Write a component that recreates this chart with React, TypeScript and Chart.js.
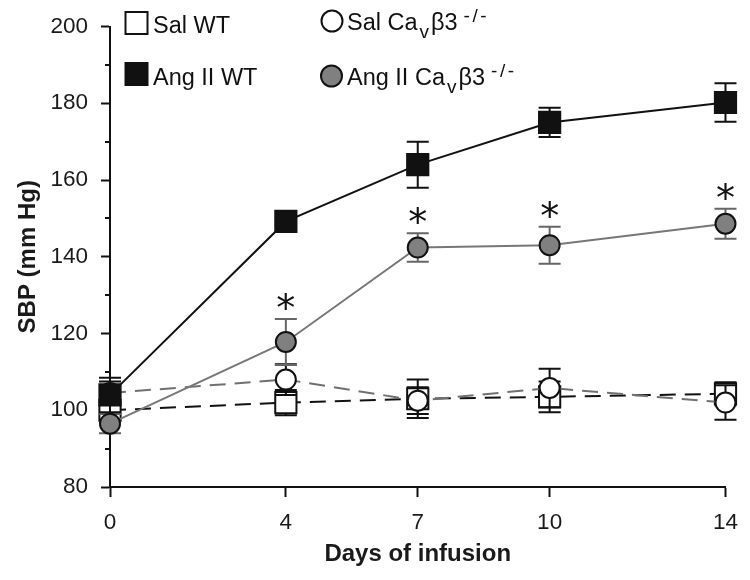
import React, { useEffect, useRef } from 'react';
import { Chart, registerables } from 'chart.js';

Chart.register(...registerables);

// ---- data ----
const days = [0, 4, 7, 10, 14];
const angWT = [104, 149.2, 164, 175, 180.2];
const angWTErr = [4.5, 1, 6, 3.8, 5];
const angKO = [96.5, 117.8, 142.4, 143, 148.6];
const angKOErr = [2.5, 6, 3.7, 4.8, 3.9];
const salKO = [104.5, 108, 102.5, 105.8, 102];
const salKOErr = [3, 4, 3.5, 5, 4.5];
const salWT = [100, 102, 103, 103.5, 104.3];
const salWTErr = [2, 3.3, 5, 4, 3];
const sigDays = [4, 7, 10, 14];
const yMajorTicks = [80, 100, 120, 140, 160, 180, 200];
const yMinorTicks = [90, 110, 130, 150, 170, 190];
const xTitle = 'Days of infusion';
const yTitle = 'SBP (mm Hg)';
const legendSalWT = [{ t: 'Sal WT' }];
const legendAngWT = [{ t: 'Ang II WT' }];
const legendSalKO = [{ t: 'Sal Ca' }, { t: 'v', sub: true }, { t: 'β3' }, { t: '-/-', sup: true }];
const legendAngKO = [{ t: 'Ang II Ca' }, { t: 'v', sub: true }, { t: 'β3' }, { t: '-/-', sup: true }];

const FAMILY = '"Liberation Sans", Arial, Helvetica, sans-serif';
const STAR_FONT = '38px "DejaVu Sans", sans-serif';
const INK = '#111111';
const GRAY_FILL = '#808080';
const GRAY_LINE = '#777777';

type Seg = { t: string; sub?: boolean; sup?: boolean };

function drawRich(ctx: CanvasRenderingContext2D, segs: Seg[], x: number, base: number) {
  let cx = x;
  ctx.textAlign = 'left';
  ctx.textBaseline = 'alphabetic';
  ctx.fillStyle = INK;
  segs.forEach((s) => {
    const small = s.sub || s.sup;
    ctx.font = `${small ? 19 : 23.5}px ${FAMILY}`;
    if (s.sup) cx += 6;
    if (s.sub) cx += 2;
    const dy = s.sub ? 8 : s.sup ? -8 : 0;
    if (s.sup) {
      for (const ch of s.t) {
        ctx.fillText(ch, cx, base + dy);
        cx += ctx.measureText(ch).width + 2.5;
      }
    } else {
      ctx.fillText(s.t, cx, base + dy);
      cx += ctx.measureText(s.t).width + (s.sub ? 2 : 0);
    }
  });
}

function drawMarker(ctx: CanvasRenderingContext2D, kind: 'rect' | 'circle', x: number, y: number, fill: string) {
  ctx.save();
  ctx.lineWidth = 2;
  ctx.strokeStyle = INK;
  ctx.fillStyle = fill;
  ctx.beginPath();
  if (kind === 'rect') ctx.rect(x - 11, y - 11, 22, 22);
  else ctx.arc(x, y, 10.5, 0, Math.PI * 2);
  ctx.fill();
  ctx.stroke();
  ctx.restore();
}

const errorBarPlugin = {
  id: 'errorBars',
  beforeDatasetDraw(chart: any, args: any) {
    const ds = chart.data.datasets[args.index];
    const err: number[] | undefined = ds.err;
    if (!err) return;
    const { ctx } = chart;
    const xs = chart.scales.x;
    const ys = chart.scales.y;
    ctx.save();
    ctx.strokeStyle = ds.errColor || INK;
    ctx.lineWidth = 2;
    ds.data.forEach((p: any, i: number) => {
      const px = xs.getPixelForValue(p.x);
      const top = ys.getPixelForValue(p.y + err[i]);
      const bot = ys.getPixelForValue(p.y - err[i]);
      ctx.beginPath();
      ctx.moveTo(px, top);
      ctx.lineTo(px, bot);
      ctx.moveTo(px - 11, top);
      ctx.lineTo(px + 11, top);
      ctx.moveTo(px - 11, bot);
      ctx.lineTo(px + 11, bot);
      ctx.stroke();
    });
    ctx.restore();
  },
};

const decorPlugin = {
  id: 'decor',
  afterDraw(chart: any) {
    const { ctx, chartArea } = chart;
    const xs = chart.scales.x;
    const ys = chart.scales.y;
    ctx.save();
    ctx.strokeStyle = INK;
    ctx.lineWidth = 2;
    yMinorTicks.forEach((v) => {
      const py = Math.round(ys.getPixelForValue(v));
      ctx.beginPath();
      ctx.moveTo(chartArea.left - 5, py);
      ctx.lineTo(chartArea.left, py);
      ctx.stroke();
    });
    ctx.restore();

    ctx.save();
    ctx.fillStyle = INK;
    ctx.textAlign = 'center';
    ctx.textBaseline = 'alphabetic';
    ctx.font = STAR_FONT;
    const m = ctx.measureText('*');
    sigDays.forEach((d) => {
      const i = days.indexOf(d);
      const px = xs.getPixelForValue(d);
      const top = ys.getPixelForValue(angKO[i] + angKOErr[i]);
      const cy = top - 18;
      const base = cy + (m.actualBoundingBoxAscent - m.actualBoundingBoxDescent) / 2;
      ctx.fillText('*', px, base);
    });
    ctx.restore();

    ctx.save();
    drawMarker(ctx, 'rect', 136.5, 23, '#ffffff');
    drawRich(ctx, legendSalWT, 153, 33);
    drawMarker(ctx, 'rect', 136.5, 74, INK);
    drawRich(ctx, legendAngWT, 153, 85);
    drawMarker(ctx, 'circle', 332, 21, '#ffffff');
    drawRich(ctx, legendSalKO, 347, 30);
    drawMarker(ctx, 'circle', 331.5, 76, GRAY_FILL);
    drawRich(ctx, legendAngKO, 347, 85);
    ctx.restore();
  },
};

export default function App() {
  const ref = useRef<HTMLCanvasElement>(null);

  useEffect(() => {
    document.body.style.margin = '0';
    const canvas = ref.current;
    if (!canvas) return;
    const toPts = (arr: number[]) => days.map((d, i) => ({ x: d, y: arr[i] }));
    const common = { pointBorderWidth: 2, pointBorderColor: INK, borderWidth: 2, tension: 0, fill: false, clip: false };

    const chart = new Chart(canvas, {
      type: 'line',
      data: {
        datasets: [
          { ...common, label: 'Ang II WT', data: toPts(angWT), err: angWTErr, errColor: INK, borderColor: INK,
            pointStyle: 'rect', pointRadius: 15, pointHoverRadius: 15, pointBackgroundColor: INK } as any,
          { ...common, label: 'Ang II CaVβ3-/-', data: toPts(angKO), err: angKOErr, errColor: '#666666', borderColor: GRAY_LINE,
            pointStyle: 'circle', pointRadius: 10, pointHoverRadius: 10, pointBackgroundColor: GRAY_FILL } as any,
          { ...common, label: 'Sal CaVβ3-/-', data: toPts(salKO), err: salKOErr, errColor: INK, borderColor: '#707070',
            borderDash: [16, 9], pointStyle: 'circle', pointRadius: 10, pointHoverRadius: 10, pointBackgroundColor: '#ffffff' } as any,
          { ...common, label: 'Sal WT', data: toPts(salWT), err: salWTErr, errColor: INK, borderColor: INK,
            borderDash: [16, 9], pointStyle: 'rect', pointRadius: 15, pointHoverRadius: 15, pointBackgroundColor: '#ffffff' } as any,
        ],
      },
      options: {
        animation: false,
        responsive: false,
        devicePixelRatio: 1,
        events: [],
        layout: { padding: { top: 20, right: 17, left: 0, bottom: 0 }, autoPadding: false },
        plugins: { legend: { display: false }, tooltip: { enabled: false }, title: { display: false } },
        scales: {
          x: {
            type: 'linear', min: 0, max: 14,
            afterBuildTicks: (s: any) => { s.ticks = days.map((v) => ({ value: v })); },
            afterFit: (s: any) => { s.height = 93; },
            grid: { drawOnChartArea: false, drawTicks: true, tickLength: 10, tickWidth: 2, tickColor: INK },
            border: { display: true, color: INK, width: 2 },
            ticks: { font: { size: 22.5, family: FAMILY }, color: '#1a1a1a', padding: 12, maxRotation: 0, autoSkip: false },
            title: { display: true, text: xTitle, color: '#1a1a1a', font: { size: 24, weight: 'bold', family: FAMILY }, padding: { top: 0, bottom: 11 } },
          },
          y: {
            type: 'linear', min: 80, max: 200,
            afterBuildTicks: (s: any) => { s.ticks = yMajorTicks.map((v) => ({ value: v })); },
            afterFit: (s: any) => { s.width = 110; },
            grid: { drawOnChartArea: false, drawTicks: true, tickLength: 9, tickWidth: 2, tickColor: INK },
            border: { display: true, color: INK, width: 2 },
            ticks: { font: { size: 22.5, family: FAMILY }, color: '#1a1a1a', padding: 13 },
            title: { display: true, text: yTitle, color: '#1a1a1a', font: { size: 24, weight: 'bold', family: FAMILY }, padding: { top: 14, bottom: 0 } },
          },
        },
      } as any,
      plugins: [errorBarPlugin, decorPlugin],
    });

    return () => chart.destroy();
  }, []);

  return (
    <div style={{ width: 750, height: 580 }}>
      <canvas ref={ref} width={750} height={580} style={{ display: 'block' }} />
    </div>
  );
}
